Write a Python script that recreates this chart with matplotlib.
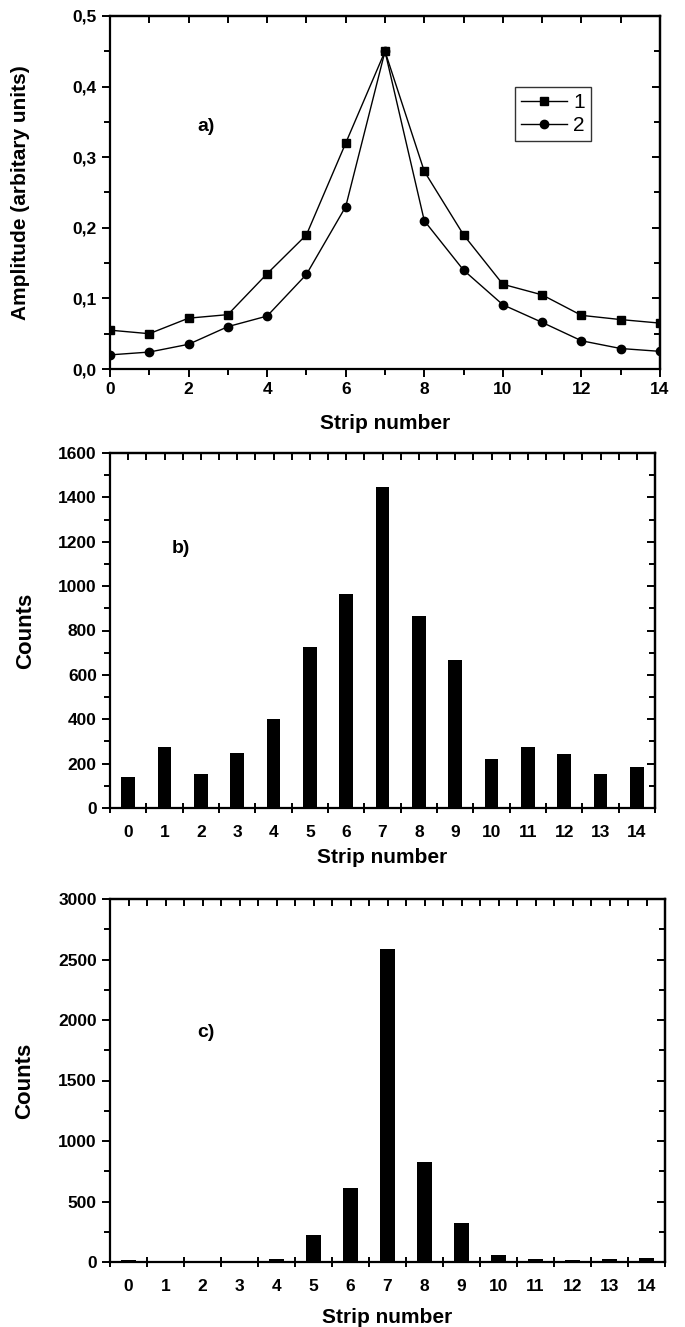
import matplotlib
matplotlib.use("Agg")
import matplotlib.pyplot as plt
from matplotlib import font_manager
from matplotlib.ticker import MultipleLocator, FuncFormatter

# data
strips = list(range(15))
amp_1 = [0.055, 0.050, 0.072, 0.077, 0.135, 0.190, 0.320, 0.450,
         0.280, 0.190, 0.120, 0.105, 0.076, 0.070, 0.065]
amp_2 = [0.020, 0.024, 0.035, 0.060, 0.075, 0.134, 0.230, 0.450,
         0.210, 0.140, 0.091, 0.066, 0.040, 0.029, 0.025]
counts_b = [139, 277, 151, 247, 400, 727, 963, 1449, 867, 667, 220, 277, 243, 151, 187]
counts_c = [20, 12, 3, 10, 25, 223, 614, 2587, 828, 325, 55, 25, 18, 25, 35]
legend_labels = ["1", "2"]

names = {f.name for f in font_manager.fontManager.ttflist}
narrow = "Liberation Sans Narrow" if "Liberation Sans Narrow" in names else "Liberation Sans"
plt.rcParams["font.family"] = ["Liberation Sans", "DejaVu Sans"]

W, H = 685, 1327
fig = plt.figure(figsize=(W / 100, H / 100), dpi=100)


def box(l, t, r, b):
    return [l / W, 1 - b / H, (r - l) / W, (b - t) / H]


def style_axes(ax, xmaj, xmin, ymaj, ymin, bottom_dir):
    for s in ax.spines.values():
        s.set_linewidth(1.6)
    ax.xaxis.set_major_locator(xmaj)
    ax.xaxis.set_minor_locator(xmin)
    ax.yaxis.set_major_locator(ymaj)
    ax.yaxis.set_minor_locator(ymin)
    ax.tick_params(axis="x", which="both", top=False, direction=bottom_dir, width=1.4)
    ax.tick_params(axis="x", which="major", length=6)
    ax.tick_params(axis="x", which="minor", length=4)
    ax.tick_params(axis="y", which="both", right=False, direction="out", width=1.4)
    ax.tick_params(axis="y", which="major", length=6)
    ax.tick_params(axis="y", which="minor", length=4)
    for lab in ax.get_xticklabels() + ax.get_yticklabels():
        lab.set_fontfamily(narrow)
        lab.set_fontweight("bold")
        lab.set_fontsize(12.5)


def mirror_ticks(ax, top_ticks, ymaj, ymin):
    top = ax.secondary_xaxis("top")
    top.set_xticks(top_ticks)
    top.tick_params(direction="in", length=5, width=1.4, labeltop=False)
    right = ax.secondary_yaxis("right")
    right.yaxis.set_major_locator(ymaj)
    right.yaxis.set_minor_locator(ymin)
    right.tick_params(which="both", direction="in", width=1.4, labelright=False)
    right.tick_params(which="major", length=6)
    right.tick_params(which="minor", length=4)
    top.spines["top"].set_linewidth(1.6)
    right.spines["right"].set_linewidth(1.6)


# ---- panel a ----
ax1 = fig.add_axes(box(110, 16, 660, 369))
ax1.plot(strips, amp_1, "-s", color="black", lw=1.0, ms=6, label=legend_labels[0])
ax1.plot(strips, amp_2, "-o", color="black", lw=1.0, ms=6, label=legend_labels[1])
ax1.set_xlim(0, 14)
ax1.set_ylim(0, 0.5)
style_axes(ax1, MultipleLocator(2), MultipleLocator(1),
           MultipleLocator(0.1), MultipleLocator(0.05), "out")
ax1.yaxis.set_major_formatter(FuncFormatter(lambda v, p: f"{v:.1f}".replace(".", ",")))
for lab in ax1.get_yticklabels():
    lab.set_fontfamily(narrow)
    lab.set_fontweight("bold")
mirror_ticks(ax1, list(range(15)), MultipleLocator(0.1), MultipleLocator(0.05))
ax1.set_xlabel("Strip number", fontsize=15, fontweight="bold", labelpad=12)
ax1.set_ylabel("Amplitude (arbitary units)", fontsize=15, fontweight="bold")
ax1.yaxis.set_label_coords(-0.145, 0.5)
ax1.text(2.45, 0.343, "a)", fontsize=14, fontweight="bold", ha="center", va="center")
leg = ax1.legend(loc="upper left", bbox_to_anchor=(0.736, 0.80), fontsize=15,
                 frameon=True, fancybox=False, edgecolor="black", handlelength=2.2,
                 handletextpad=0.3, borderpad=0.3, labelspacing=0.2, borderaxespad=0)
leg.get_frame().set_linewidth(1.0)


# ---- bar panels ----
def bar_panel(rect, values, ymax, ystep, label_xy, tag, width):
    ax = fig.add_axes(rect)
    ax.bar(strips, values, width=width, color="black")
    ax.set_xlim(-0.5, 14.5)
    ax.set_ylim(0, ymax)
    halves = [i - 0.5 for i in range(16)]
    style_axes(ax, MultipleLocator(1), MultipleLocator(0.5),
               MultipleLocator(ystep), MultipleLocator(ystep / 2), "inout")
    ax.set_xticks(strips)
    ax.set_xticks(halves, minor=True)
    ax.tick_params(axis="x", which="major", length=0, pad=12)
    ax.tick_params(axis="x", which="minor", length=7)
    for lab in ax.get_xticklabels() + ax.get_yticklabels():
        lab.set_fontfamily(narrow)
        lab.set_fontweight("bold")
        lab.set_fontsize(12.5)
    mirror_ticks(ax, [i * 0.5 - 0.5 for i in range(31)],
                 MultipleLocator(ystep), MultipleLocator(ystep / 2))
    ax.set_xlabel("Strip number", fontsize=15, fontweight="bold", labelpad=6)
    ax.set_ylabel("Counts", fontsize=16, fontweight="bold")
    ax.yaxis.set_label_coords(-0.135, 0.5)
    ax.text(label_xy[0], label_xy[1], tag, fontsize=14, fontweight="bold",
            ha="center", va="center")
    return ax


ax2 = bar_panel(box(110, 453, 655, 808), counts_b, 1600, 200, (1.45, 1168), "b)", 0.37)
ax3 = bar_panel(box(110, 899, 665, 1262), counts_c, 3000, 500, (2.1, 1894), "c)", 0.40)
ax3.xaxis.labelpad = 10

fig.savefig("out.png", dpi=100)
